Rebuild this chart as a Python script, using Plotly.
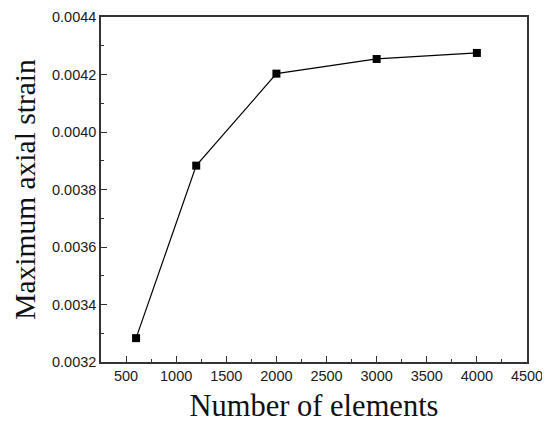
import plotly.graph_objects as go

elements = [600, 1200, 2000, 3000, 4000]
max_strain = [0.003283, 0.003883, 0.004203, 0.004254, 0.004275]

fig = go.Figure()
fig.add_trace(go.Scatter(
    x=elements, y=max_strain,
    mode="lines+markers",
    line=dict(color="black", width=1.2),
    marker=dict(symbol="square", size=8, color="black"),
))

axis_common = dict(
    showline=True, linecolor="#333", linewidth=1.5, mirror=True,
    ticks="inside", tickcolor="#333", ticklen=6, tickwidth=1.2,
    showgrid=False, zeroline=False, automargin=False,
    ticklabeloverflow="allow",
    tickfont=dict(family="Liberation Sans, Arial", size=14.5, color="#1a1a1a"),
)

fig.update_xaxes(
    range=[250, 4500], tick0=500, dtick=500,
    minor=dict(ticks="inside", dtick=250, ticklen=3, tickcolor="#333"),
    title_text="Number of elements", title_standoff=17,
    title_font=dict(family="Liberation Serif, Times New Roman", size=30.5, color="#111"),
    **axis_common,
)
fig.update_yaxes(
    range=[0.0032, 0.0044], dtick=0.0002, tickformat=".4f",
    minor=dict(ticks="inside", dtick=0.0001, ticklen=3, tickcolor="#333"),
    title_text="Maximum axial strain", title_standoff=8,
    title_font=dict(family="Liberation Serif, Times New Roman", size=29.5, color="#111"),
    **axis_common,
)

# page body has an 8px margin, so the figure is drawn 8px in from the corner
fig.update_layout(
    width=542, height=415,
    margin=dict(l=93, r=23, t=9, b=61),
    plot_bgcolor="white", paper_bgcolor="white",
    showlegend=False,
)

fig.write_html("out.html")
